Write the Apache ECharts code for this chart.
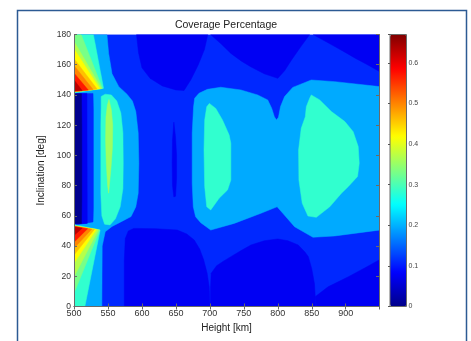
<!DOCTYPE html>
<html>
<head>
<meta charset="utf-8">
<script src="https://cdn.jsdelivr.net/npm/echarts@6/dist/echarts.min.js"></script>
<style>
  html, body { margin: 0; padding: 0; background: #fff; }
  #chart { width: 471px; height: 341px; }
</style>
</head>
<body>
<div id="chart"></div>
<script>
// contour bands, [height km, inclination deg]
const xTicks = [500, 550, 600, 650, 700, 750, 800, 850, 900];
const yTicks = [0, 20, 40, 60, 80, 100, 120, 140, 160, 180];
const barTicks = [0, 0.1, 0.2, 0.3, 0.4, 0.5, 0.6];

const baseField = [[500, 0], [950, 0], [950, 180], [500, 180]];

// darker blue domes
const domeTopA = [[592, 180], [595, 168], [600, 158], [612, 151], [630, 146], [650, 143.3], [662, 143], [672, 150], [683, 160], [692, 170], [697, 180]];
const domeTopB = [[701, 180], [716, 174], [731, 167.5], [746, 162.5], [760, 158.7], [780, 154], [800, 151], [810, 156], [820, 163], [834, 172], [847, 180]];
const domeTopC = [[852, 180], [868, 176], [884, 172], [900, 168], [914, 164.3], [932, 160], [950, 155.4], [950, 180]];
const domeBotA = [[574, 0], [574, 30], [575.5, 45], [580, 50], [588, 51.7], [620, 51.5], [652, 50.6], [666, 48], [677, 44], [685, 38], [691, 30.8], [696, 22], [699, 13], [700.3, 0]];
const domeBotB = [[701, 0], [701, 12], [702, 22], [710, 27], [720, 30], [731, 33], [746, 37], [760.5, 40.7], [780, 43.5], [800, 44.7], [815, 43.5], [830, 40.7], [840, 36], [845, 33], [850, 25], [854, 15], [856, 0]];
const domeBotC = [[857, 0], [855, 6.5], [874, 13], [904, 19.7], [930, 26], [950, 31], [950, 0]];
const sliver650 = [[647, 122], [649.5, 112], [651, 100], [651, 85], [649.5, 73], [647, 72.5], [645, 80], [644.5, 95], [645, 110]];

// left side (500-600 km)
const leftLight = [[500, 180], [548.5, 180], [551, 167.5], [556, 154], [566, 145.5], [578, 140.5], [586, 136], [591, 129], [594.5, 115], [595.5, 95], [594.5, 75], [591, 66], [584, 59.5], [569, 56], [556, 53], [546, 49.5], [541.5, 40], [541, 0], [500, 0]];
const leftMedium = [[500, 141], [528, 141], [528.5, 130], [528.5, 65], [528, 56], [500, 54]];
const leftBlue = [[500, 141], [519, 141], [519.5, 55], [500, 54.5]];
const leftNavy = [[500, 140.8], [511, 140.8], [511.5, 120], [511.5, 70], [511, 55], [500, 55]];
const bracket550 = [[540, 139], [546, 140.5], [555, 140], [563, 136], [569, 128], [572, 115], [572.5, 95], [572, 78], [568, 66], [561, 58], [553, 54], [545, 54.5], [541, 60], [539.5, 75], [539.5, 120], [540, 132]];
const spindle550 = [[551.5, 137], [555, 130], [557, 120], [556.5, 105], [554.5, 92], [552, 80], [551, 75], [549.5, 80], [547.5, 95], [546.5, 110], [547, 125], [549, 133]];

// peak near 145 deg
const upAqua = [[500, 141.3], [500, 180], [528.5, 180], [543.5, 144.4]];
const upGreen = [[500, 142], [500, 180], [510.5, 180], [542, 144.3]];
const upGreenYellow = [[500, 142.1], [500, 175.5], [540.5, 144.2]];
const upYellow = [[500, 142.2], [500, 170.5], [538, 144.1]];
const upYellowOrange = [[500, 142.3], [500, 164], [534, 143.9]];
const upOrange = [[500, 142.4], [500, 159.5], [528, 143.6]];
const upRed = [[500, 142.5], [500, 154.5], [521, 143.2]];
const upDarkRed = [[500, 142.6], [500, 150], [512, 142.9]];

// peak near 50 deg
const lowAqua = [[500, 54.3], [500, 0], [516, 0], [538.5, 50.6]];
const lowGreen = [[500, 53.5], [500, 8.7], [538, 50.7]];
const lowGreenYellow = [[500, 53.4], [500, 19.7], [536, 50.8]];
const lowYellow = [[500, 53.3], [500, 28.6], [533, 50.9]];
const lowYellowOrange = [[500, 53.2], [500, 34], [530, 51]];
const lowOrange = [[500, 53.1], [500, 38.5], [526, 51.2]];
const lowRed = [[500, 53], [500, 42.5], [520, 51.5]];
const lowDarkRed = [[500, 52.8], [500, 47], [512, 51.8]];

// right side
const rightLight = [[676, 132], [677.6, 137.8], [684, 141.1], [696.4, 143.7], [716, 145.1], [745.7, 143.3], [770.4, 140], [785.2, 136.7], [791, 131.2], [795, 125.6], [798, 123.4], [801, 125.2], [804, 132.3], [810, 138.9], [822, 145], [849.3, 149.9], [884, 148.8], [950, 145.5], [950, 50.6], [884, 46.7], [851.8, 45.8], [824.7, 52.8], [807.4, 61.7], [799, 66], [775.3, 61.7], [735.8, 55], [701.3, 50.6], [686.5, 55.5], [679, 59.4], [675.6, 66], [674, 81.5], [674, 114.6]];
const blob700 = [[699.3, 134.4], [708.7, 131.1], [718.6, 123.4], [728.4, 113.5], [730.9, 108], [730.9, 83.7], [726, 77.1], [713.6, 71.6], [701.3, 63.9], [695.4, 66], [692.4, 79.3], [691.4, 103.6], [692.4, 123.4], [695.4, 132.2]];
const blob875 = [[849.3, 140], [861.7, 136.7], [878.9, 129], [898.7, 122.4], [911, 115.7], [918.4, 105.8], [919.9, 94.8], [917.4, 86], [903.6, 79.3], [893.7, 74.9], [876.5, 66], [856.7, 59], [844.4, 59.9], [836, 68.3], [831.1, 83.7], [830.6, 103.6], [834.5, 117.9], [840.5, 125.6], [842, 132.2], [846.9, 137.8]];

// paint order, with the coverage level of each band
const layers = [
  [baseField, 0.11],
  [domeTopA, 0.075], [domeTopB, 0.075], [domeTopC, 0.075],
  [domeBotA, 0.075], [domeBotB, 0.075], [domeBotC, 0.075],
  [sliver650, 0.075],
  [leftLight, 0.195], [leftMedium, 0.11], [leftBlue, 0.075], [leftNavy, 0.005],
  [bracket550, 0.283], [spindle550, 0.355],
  [rightLight, 0.195], [blob700, 0.283], [blob875, 0.283],
  [upAqua, 0.283], [upGreen, 0.33], [upGreenYellow, 0.37], [upYellow, 0.42],
  [upYellowOrange, 0.46], [upOrange, 0.5], [upRed, 0.57], [upDarkRed, 0.63],
  [lowAqua, 0.283], [lowGreen, 0.33], [lowGreenYellow, 0.37], [lowYellow, 0.42],
  [lowYellowOrange, 0.46], [lowOrange, 0.5], [lowRed, 0.57], [lowDarkRed, 0.63]
];

const jet = ['#000088', '#0000ff', '#0080ff', '#00ffff', '#80ff80', '#ffff00', '#ff8000', '#ff0000', '#800000'];
const font = 'Liberation Sans, Arial, sans-serif';

const chart = echarts.init(document.getElementById('chart'), null, { renderer: 'canvas' });

const mainAxisCommon = {
  gridIndex: 0,
  type: 'value',
  z: 10,
  axisLine: { lineStyle: { color: '#6a6a6a', width: 1 } },
  axisTick: { inside: true, length: 3, lineStyle: { color: '#6a6a6a' } },
  splitLine: { show: false }
};

chart.setOption({
  animation: false,
  backgroundColor: '#fff',
  title: {
    text: 'Coverage Percentage',
    left: 221,
    top: 15,
    textAlign: 'center',
    textStyle: { fontFamily: font, fontSize: 10.5, fontWeight: 'normal', color: '#222' }
  },
  graphic: [{
    type: 'rect',
    shape: { x: 17.5, y: 10.5, width: 449, height: 345 },
    style: { fill: 'none', stroke: '#2c5a93', lineWidth: 1.5 },
    z: 100
  }],
  grid: [
    { left: 74, top: 34.5, right: 92, bottom: 34.5 },
    { left: 390, top: 34.5, width: 16.5, bottom: 34.5, show: true, borderColor: '#6a6a6a', borderWidth: 1, backgroundColor: 'transparent', z: 10 }
  ],
  xAxis: [
    Object.assign({}, mainAxisCommon, {
      min: 500, max: 949, interval: 50, position: 'bottom',
      name: 'Height [km]', nameLocation: 'middle', nameGap: 16,
      nameTextStyle: { fontFamily: font, fontSize: 10, color: '#222' },
      axisLabel: { fontFamily: font, fontSize: 9, color: '#333', margin: 3,
        formatter: v => xTicks.includes(v) ? String(v) : '' }
    }),
    { gridIndex: 1, type: 'value', show: false, min: 0, max: 1 },
    Object.assign({}, mainAxisCommon, {
      min: 500, max: 949, interval: 50, position: 'top', axisLabel: { show: false }
    })
  ],
  yAxis: [
    Object.assign({}, mainAxisCommon, {
      min: 0, max: 180, interval: 20, position: 'left',
      name: 'Inclination [deg]', nameLocation: 'middle', nameGap: 19,
      nameTextStyle: { fontFamily: font, fontSize: 10, color: '#222' },
      axisLabel: { fontFamily: font, fontSize: 8.5, color: '#333', margin: 3,
        formatter: v => yTicks.includes(v) ? String(v) : '' }
    }),
    {
      gridIndex: 1, type: 'value', min: 0, max: 0.67, interval: 0.1, position: 'right', z: 10,
      axisLine: { show: false },
      axisTick: { inside: true, length: 2, lineStyle: { color: '#555' } },
      splitLine: { show: false },
      axisLabel: { fontFamily: font, fontSize: 7, color: '#444', margin: 2,
        formatter: v => {
          const t = barTicks.find(b => Math.abs(b - v) < 1e-6);
          return t === undefined ? '' : (t === 0 ? '0' : t.toFixed(1));
        } }
    },
    Object.assign({}, mainAxisCommon, {
      min: 0, max: 180, interval: 20, position: 'right', axisLabel: { show: false }
    })
  ],
  visualMap: {
    type: 'continuous',
    seriesIndex: 0,
    dimension: 0,
    min: 0,
    max: 0.67,
    calculable: false,
    hoverLink: false,
    orient: 'vertical',
    left: 390,
    top: 34.5,
    padding: 0,
    itemWidth: 16.5,
    itemHeight: 272,
    text: null,
    inRange: { color: jet }
  },
  series: [{
    type: 'custom',
    coordinateSystem: 'cartesian2d',
    xAxisIndex: 0,
    yAxisIndex: 0,
    clip: true,
    silent: true,
    data: layers.map((l, i) => ({ value: [l[1], i] })),
    encode: { x: 1, y: 1 },
    renderItem: (params, api) => {
      const pts = layers[params.dataIndex][0].map(p => api.coord(p));
      return {
        type: 'polygon',
        shape: { points: pts },
        style: { fill: api.visual('color'), stroke: api.visual('color'), lineWidth: 0.5 }
      };
    }
  }]
});
</script>
</body>
</html>
